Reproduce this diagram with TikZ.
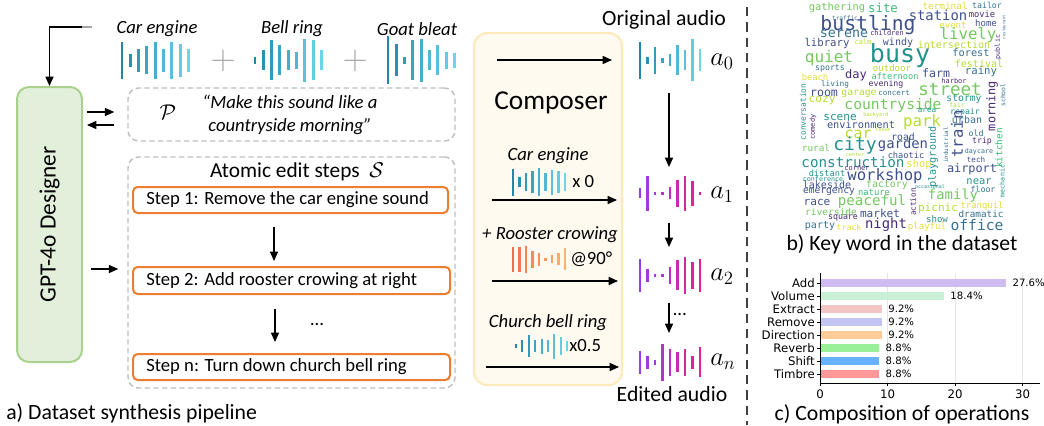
\RequirePackage{fix-cm}
\documentclass[tikz,border=0pt]{standalone}
\usepackage{fontspec}
\setmainfont{Carlito}
\newfontfamily\wcfont{DejaVu Sans Mono}
\newfontfamily\plotfont{DejaVu Sans}
\usetikzlibrary{arrows.meta,fit}

\definecolor{tealD}{RGB}{30,135,170}
\definecolor{tealL}{RGB}{110,212,236}
\definecolor{violetA}{RGB}{150,60,240}
\definecolor{magentaA}{RGB}{230,30,150}
\definecolor{coralA}{RGB}{245,110,80}
\definecolor{orangeL}{RGB}{255,178,105}
\definecolor{stepor}{RGB}{237,125,49}
\definecolor{desfill}{RGB}{226,239,218}
\definecolor{desline}{RGB}{169,209,142}
\definecolor{compfill}{RGB}{254,250,240}
\definecolor{compline}{RGB}{253,233,185}
\definecolor{wcA}{RGB}{72,40,120}
\definecolor{wcB}{RGB}{62,80,140}
\definecolor{wcC}{RGB}{55,112,142}
\definecolor{wcD}{RGB}{35,145,140}
\definecolor{wcE}{RGB}{60,185,120}
\definecolor{wcF}{RGB}{115,200,95}
\definecolor{wcG}{RGB}{180,220,50}
\definecolor{wcH}{RGB}{225,222,60}
\definecolor{barAdd}{RGB}{207,188,242}
\definecolor{barVol}{RGB}{200,240,212}
\definecolor{barExt}{RGB}{242,196,196}
\definecolor{barRem}{RGB}{196,196,242}
\definecolor{barDir}{RGB}{255,204,153}
\definecolor{barRev}{RGB}{153,240,153}
\definecolor{barShi}{RGB}{102,178,255}
\definecolor{barTim}{RGB}{255,153,153}

% bars of a waveform: x0, y centre, step, bar width, left colour, right colour, heights
\newcommand{\wave}[7]{%
  \foreach \h [count=\i] in {#7}{%
    \pgfmathtruncatemacro{\wvp}{100-(\i-1)*12.5}%
    \draw[#5!\wvp!#6, line width=#4] ({#1+(\i-1)*#3},{#2-\h/2}) -- ({#1+(\i-1)*#3},{#2+\h/2});
  }}
% one word of the cloud
\newcommand{\kw}[5][0]{\node[kwd, rotate=#1, text=#5, font=\wcfont\fontsize{#4}{#4}\selectfont] (kw-#3) at (#2) {#3};}
% one bar of the chart: y, length, colour, label, share
\newcommand{\opbar}[5]{%
  \fill[#3] (820,#1-4) rectangle ({820+#2},#1+4);
  \draw[line width=0.6pt] (817,#1) -- (820,#1);
  \node[oplab, anchor=east] (op-#4) at (815,#1) {#4};
  \node[pctlab, anchor=west] (pct-#4) at ({820+#2+6},#1) {#5};}

\tikzset{
  arr/.style={-{Triangle[length=7pt,width=6pt]}, line width=1.1pt},
  dashbox/.style={draw=black!25, line width=1.1pt, dash pattern=on 4pt off 2.5pt, rounded corners=8pt, inner sep=0pt},
  stepbox/.style={draw=stepor, line width=1.5pt, rounded corners=3.5pt, fill=white, inner sep=0pt},
  txt/.style={inner sep=0pt, font=\fontsize{14}{17.25}\selectfont},
  itxt/.style={inner sep=0pt, font=\fontsize{14}{17.25}\selectfont\itshape},
  captext/.style={inner sep=0pt, font=\fontsize{16.3}{19}\selectfont},
  amath/.style={inner sep=0pt, font=\fontsize{20}{20}\selectfont},
  plussign/.style={inner sep=0pt, text=black!35, font=\fontsize{26}{26}\selectfont},
  kwd/.style={inner sep=0pt},
  oplab/.style={inner sep=0pt, font=\plotfont\fontsize{8.8}{10}\selectfont},
  pctlab/.style={inner sep=0pt, font=\plotfont\fontsize{7.6}{9}\selectfont},
}

\begin{document}
\begin{tikzpicture}[x=0.75pt,y=-0.75pt]
\useasboundingbox (0,0) rectangle (1044,425);

% designer
\node[fit={(17,87) (82,362)}, draw=desline, fill=desfill, line width=1.5pt, rounded corners=9pt, inner sep=0pt] (designer) {};
\node[rotate=90, inner sep=0pt, font=\fontsize{17.5}{20}\selectfont] (designertxt) at (designer.center) {GPT-4o Designer};
\coordinate (fbend) at (92,27);
\coordinate (fbturn) at (82,27);
\draw[black!35, line width=1.1pt] (fbend) -- (fbturn);
\draw[arr] (fbturn) -| (designer);

% source sounds
\node[itxt] (carlab) at (157,29) {Car engine};
\wave{122}{60}{8.3}{2.2pt}{tealD}{tealL}{37,13,23,28,37,23,37,33,23}
\node[plussign] (plus1) at (223,61) {$+$};
\node[itxt] (belllab) at (292,29) {Bell ring};
\wave{255}{60}{8.3}{2.2pt}{tealD}{tealL}{7,20,40,30,20,17,43,40,20}
\node[plussign] (plus2) at (355,61) {$+$};
\node[itxt] (goatlab) at (417,29) {Goat bleat};
\wave{388}{60}{8.3}{2.2pt}{tealD}{tealL}{48,32,7,40,43,20,30,17,15}

% prompt
\node[fit={(128,88) (455,141)}, dashbox] (prompt) {};
\node[inner sep=0pt, font=\fontsize{16}{16}\selectfont] (pmath) at (168,112) {$\mathcal{P}$};
\node[itxt, align=center] (ptext) at (290,114.5) {“Make this sound like a\\countryside morning”};
\coordinate (pto) at (0,112);
\coordinate (pback) at (0,125);
\draw[arr, shorten <=3pt, shorten >=9.75pt] (designer.east |- pto) -- (prompt.west |- pto);
\draw[arr, shorten <=9.75pt, shorten >=3pt] (prompt.west |- pback) -- (designer.east |- pback);

% atomic steps
\node[fit={(128,157) (455,388)}, dashbox] (steps) {};
\node[inner sep=0pt, font=\fontsize{16}{16}\selectfont] (stepstitle) at (297,172) {Atomic edit steps\ \ $\mathcal{S}$};
\node[fit={(133,187) (448,213)}, stepbox] (step1) {};
\node[txt, anchor=west] (step1txt) at ([xshift=10.5pt]step1.west) {Step 1: Remove the car engine sound};
\node[fit={(133,267) (450,294)}, stepbox] (step2) {};
\node[txt, anchor=west] (step2txt) at ([xshift=10.5pt]step2.west) {Step 2: Add rooster crowing at right};
\node[fit={(133,354) (450,380)}, stepbox] (stepn) {};
\node[txt, anchor=west] (stepntxt) at ([xshift=10.5pt]stepn.west) {Step n: Turn down church bell ring};
\coordinate (col12) at (274,0);
\coordinate (col2n) at (275,0);
\draw[arr, shorten <=9.75pt, shorten >=3.75pt] (step1.south -| col12) -- (step2.north -| col12);
\draw[arr, shorten <=10.5pt, shorten >=8.25pt] (step2.south -| col2n) -- (stepn.north -| col2n);
\node[txt] (stepdots) at (317,325) {…};
\coordinate (lvl) at (0,269);
\draw[arr, shorten <=6pt, shorten >=6.75pt] (designer.east |- lvl) -- (steps.west |- lvl);
\node[captext, anchor=west] (capa) at (6,413) {a) Dataset synthesis pipeline};

% composer
\node[fit={(474,33) (622,385)}, draw=compline, fill=compfill, line width=1.5pt, rounded corners=10pt, inner sep=0pt] (composer) {};
\node[inner sep=0pt, font=\fontsize{20.5}{20.5}\selectfont] (comptxt) at (551,103) {Composer};
\coordinate (in0) at (497,60);
\coordinate (out0) at (612,60);
\draw[arr] (in0) -- (out0);
\node[itxt] (carlab2) at (548,156) {Car engine};
\wave{513}{182}{6.5}{1.6pt}{tealD}{tealL}{27,10,18,22,28,18,25,22,18}
\node[txt, anchor=west] (gain0) at (572,182) {x 0};
\coordinate (in1) at (492,200);
\coordinate (out1) at (617,200);
\draw[arr] (in1) -- (out1);
\node[itxt] (roolab) at (550,235) {+ Rooster crowing};
\wave{513}{259}{6.5}{1.6pt}{coralA}{orangeL}{25,25,27,17,13,3,8,12,22}
\node[txt, anchor=west] (pan) at (570,259) {@90°};
\coordinate (in2) at (492,281);
\coordinate (out2) at (618,281);
\draw[arr] (in2) -- (out2);
\node[itxt] (chulab) at (548,323) {Church bell ring};
\wave{516}{346}{6.4}{1.6pt}{tealD}{tealL}{4,12,22,12,15,12,25,18,10}
\node[txt, anchor=west] (gainn) at (569,346) {x0.5};
\coordinate (in3) at (486,367);
\coordinate (out3) at (619,367);
\draw[arr] (in3) -- (out3);

% audio chain
\node[inner sep=0pt, font=\fontsize{16.3}{16.3}\selectfont] (origlab) at (664,20) {Original audio};
\wave{640}{60}{7.5}{2.2pt}{tealD}{tealL}{37,7,27,5,12,30,20,42,22}
\node[amath, anchor=west] (a0) at (710,62) {$a_0$};
\wave{640}{193}{7.5}{2.2pt}{violetA}{magentaA}{10,35,3,3,12,27,35,25,3}
\node[amath, anchor=west] (a1) at (710,195) {$a_1$};
\wave{640}{275}{7.5}{2.2pt}{violetA}{magentaA}{33,13,3,3,17,30,37,27,33}
\node[amath, anchor=west] (a2) at (710,277) {$a_2$};
\wave{640}{362}{7.5}{2.2pt}{violetA}{magentaA}{23,13,5,37,27,20,27,13,30}
\node[amath, anchor=west] (an) at (710,362) {$a_n$};
\node[inner sep=0pt, font=\fontsize{16.3}{16.3}\selectfont] (editlab) at (672,394) {Edited audio};
\coordinate (wa0) at (669,60);
\coordinate (wa1) at (669,193);
\coordinate (wa2) at (669,275);
\coordinate (wan) at (669,362);
\draw[arr, shorten <=24.75pt, shorten >=19.5pt] (wa0) -- (wa1);
\draw[arr, shorten <=22.5pt, shorten >=21pt] (wa1) -- (wa2);
\draw[arr, shorten <=21pt, shorten >=21.75pt] (wa2) -- (wan);
\node[txt, anchor=west] (adots) at (673,315) {…};

% divider
\coordinate (septop) at (747,7);
\coordinate (sepbot) at (747,425);
\draw[black!75, line width=1.6pt, dash pattern=on 7pt off 4.5pt] (septop) -- (sepbot);

% key words
\kw{837,8}{gathering}{7.8}{wcF} \kw{883,8}{site}{9.3}{wcE} \kw{945,6}{terminal}{7}{wcH} \kw{987,5}{tailor}{6.2}{wcC}
\kw{845,18.5}{traffic}{4.6}{wcC} \kw{938,15}{station}{10.4}{wcB} \kw{982,14}{movie}{6.6}{wcA} \kw[90]{1004,27}{restaurant}{3}{wcC}
\kw{868,25}{bustling}{14.8}{wcB} \kw{953,25}{event}{6.8}{wcH} \kw{986,23}{home}{6.8}{wcB}
\kw{844,34}{serene}{10}{wcC} \kw{887,33}{children}{5.2}{wcA} \kw{968,35}{lively}{11.8}{wcF} \kw[90]{998,47}{public}{5}{wcA}
\kw{827,44}{library}{8}{wcB} \kw{863,42}{calm}{5.2}{wcG} \kw{898,43}{windy}{7.5}{wcB} \kw{954,45}{intersection}{7.5}{wcG}
\kw{900,56}{busy}{18.7}{wcD} \kw{829,58}{quiet}{12}{wcF} \kw{971,53}{forest}{7.7}{wcC} \kw{979,64}{festival}{7.5}{wcG}
\kw{830,68}{sports}{6.2}{wcC} \kw{892,68}{outdoor}{6.8}{wcG} \kw{856,75}{day}{9}{wcA} \kw{936,73}{farm}{8.7}{wcB}
\kw{981,72}{rainy}{8}{wcC} \kw{815,77}{beach}{6.6}{wcH} \kw{895,76}{afternoon}{6.5}{wcE} \kw{835,84}{living}{5.8}{wcC}
\kw{886,84}{evening}{6.2}{wcA} \kw{954,81}{harbor}{5.2}{wcA} \kw{950,89}{street}{13.1}{wcF} \kw[90]{992,106}{morning}{8.9}{wcA}
\kw[90]{1003,95}{school}{4.8}{wcC} \kw{824,93}{room}{8.7}{wcB} \kw{859,94}{garage}{7.3}{wcG} \kw{894,93}{concert}{5.6}{wcC}
\kw{893,105}{countryside}{11}{wcF} \kw{822,101}{cozy}{8.4}{wcG} \kw{964,99}{stormy}{7.3}{wcD} \kw{957,105.5}{fair}{4.7}{wcG}
\kw{927,110}{area}{5.7}{wcD} \kw{965,112}{repair}{6.2}{wcD} \kw[90]{803,112}{conversation}{5.9}{wcD} \kw{840,117}{scene}{8.3}{wcD}
\kw{922,122}{park}{11.8}{wcG} \kw{876,115}{backyard}{3.9}{wcG} \kw[90]{813,127}{comedy}{5.2}{wcA} \kw{861,125}{environment}{7.7}{wcB}
\kw{967,120}{urban}{7.5}{wcC} \kw{858,134}{car}{11.2}{wcG} \kw{883,130}{tense}{3.7}{wcG} \kw{903,137}{road}{7.3}{wcB}
\kw[90]{946,145}{industrial}{4.4}{wcC} \kw[90]{933,157}{playground}{7.6}{wcD} \kw[90]{957,134}{train}{11.7}{wcB} \kw[90]{999,148}{kitchen}{7}{wcE}
\kw{976,133}{old}{6.2}{wcC} \kw{982,141}{trip}{6.2}{wcA} \kw{979,152}{daycare}{5}{wcC} \kw{976,160}{tech}{5.7}{wcB}
\kw[90]{1002,181}{mechanic}{5}{wcD} \kw{855,146}{city}{13.5}{wcD} \kw{903,145}{garden}{10.4}{wcB} \kw{816,148}{rural}{7}{wcF}
\kw{855,155}{center}{3.8}{wcG} \kw{906,155}{chaotic}{6.5}{wcB} \kw{853,162}{construction}{10.7}{wcD} \kw{919,165}{shop}{7.8}{wcH}
\kw{857,169}{corner}{5.2}{wcA} \kw{972,169}{airport}{8.9}{wcB} \kw{827,173}{distant}{6.5}{wcD} \kw{885,176}{workshop}{11.7}{wcB}
\kw{823,179}{conference}{5}{wcD} \kw{979,182}{near}{7.8}{wcD} \kw{930,187}{occasional}{3.7}{wcD} \kw{983,189}{floor}{6.2}{wcC}
\kw{887,185}{factory}{7.4}{wcF} \kw{827,185}{lakeside}{7.5}{wcB} \kw{829,192}{emergency}{7.2}{wcB} \kw{874,192}{nature}{6.6}{wcE}
\kw{953,196}{family}{10.4}{wcF} \kw[90]{913,202}{action}{5.8}{wcA} \kw{817,202}{race}{8.3}{wcB} \kw{872,202}{peaceful}{10.6}{wcF}
\kw{982,206}{tranquil}{6.7}{wcH} \kw{938,208}{picnic}{8.3}{wcG} \kw{831,212}{riverside}{7.2}{wcF} \kw{843,218}{square}{6.2}{wcA}
\kw{880,213}{market}{8.3}{wcB} \kw{981,214}{dramatic}{7}{wcC} \kw{937,219}{show}{6.8}{wcD} \kw{820,226}{party}{7.5}{wcC}
\kw{849,227}{track}{6.2}{wcH} \kw{886,225}{night}{10.4}{wcA} \kw{927,227}{playful}{6.8}{wcH} \kw{977,225}{office}{11}{wcC}
\node[captext] (capb) at (902,244) {b) Key word in the dataset};

% operations chart
\foreach \g in {887.5,955,1022.5} \draw[black!10, line width=0.6pt] (\g,273) -- (\g,383);
\opbar{283}{186.3}{barAdd}{Add}{27.6\%}
\opbar{296}{124.2}{barVol}{Volume}{18.4\%}
\opbar{309}{62.1}{barExt}{Extract}{9.2\%}
\opbar{322}{62.1}{barRem}{Remove}{9.2\%}
\opbar{335}{62.1}{barDir}{Direction}{9.2\%}
\opbar{348}{59.4}{barRev}{Reverb}{8.8\%}
\opbar{361}{59.4}{barShi}{Shift}{8.8\%}
\opbar{374}{59.4}{barTim}{Timbre}{8.8\%}
\draw[line width=0.6pt] (820,273) -- (820,383) -- (1040,383);
\foreach \t/\lab in {820/0,887.5/10,955/20,1022.5/30}{
  \draw[line width=0.6pt] (\t,383) -- (\t,386);
  \node[oplab] (tick\lab) at (\t,394) {\lab};
}
\node[captext] (capc) at (902,414) {c) Composition of operations};
\end{tikzpicture}
\end{document}
